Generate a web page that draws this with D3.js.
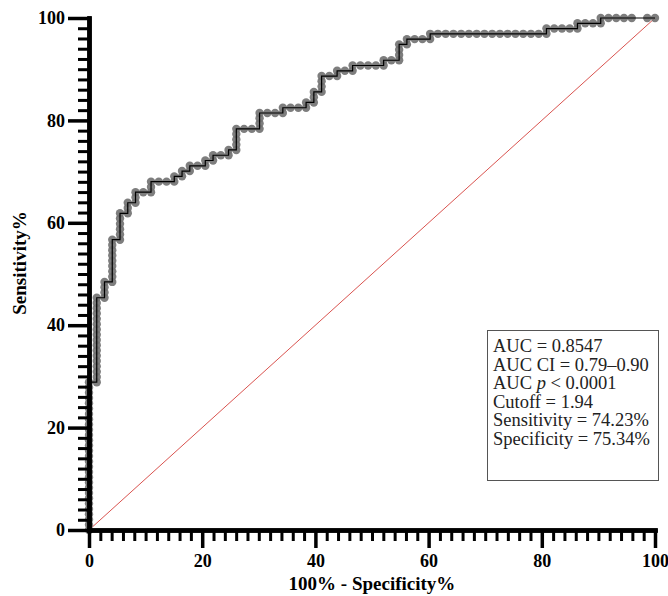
<!DOCTYPE html>
<html>
<head>
<meta charset="utf-8">
<script src="https://cdn.jsdelivr.net/npm/d3@7"></script>
<style>
body { margin: 0; background: #fff; }
</style>
</head>
<body>
<div id="chart"></div>
<script>
// ROC curve points as counts: false positives out of 73 negatives, true positives out of 97 positives
const nNeg = 73;
const nPos = 97;
const rocFP = [
  0,0,0,0,0,0,0,0,0,0,0,0,0,0,0,0,0,0,0,0,0,0,0,0,0,0,0,0,0,
  1,1,1,1,1,1,1,1,1,1,1,1,1,1,1,1,1,
  2,2,2,2,
  3,3,3,3,3,3,3,3,3,
  4,4,4,4,4,4,
  5,5,5,
  6,6,6,
  7,
  8,8,8,
  9,10,
  11,11,12,12,13,13,14,15,15,16,16,17,18,18,
  19,19,19,19,19,
  20,21,
  22,22,22,22,
  23,24,25,25,26,27,28,28,
  29,29,29,
  30,30,30,30,
  31,32,32,33,34,34,35,36,37,38,38,39,
  40,40,40,40,
  41,41,42,43,44,44,
  45,46,47,48,49,50,51,52,53,54,55,56,57,58,
  59,59,60,61,62,63,63,64,65,66,66,67,68,69,70,72,73
];
const rocTP = [
  0,1,2,3,4,5,6,7,8,9,10,11,12,13,14,15,16,17,18,19,20,21,22,23,24,25,26,27,28,
  28,29,30,31,32,33,34,35,36,37,38,39,40,41,42,43,44,
  44,45,46,47,
  47,48,49,50,51,52,53,54,55,
  55,56,57,58,59,60,
  60,61,62,
  62,63,64,
  64,
  64,65,66,
  66,66,
  66,67,67,68,68,69,69,69,70,70,71,71,71,72,
  72,73,74,75,76,
  76,76,
  76,77,78,79,
  79,79,79,80,80,80,80,81,
  81,82,83,
  83,84,85,86,
  86,86,87,87,87,88,88,88,88,88,89,89,
  89,90,91,92,
  92,93,93,93,93,94,
  94,94,94,94,94,94,94,94,94,94,94,94,94,94,
  94,95,95,95,95,95,96,96,96,96,97,97,97,97,97,97,97
];

const majorTicks = [0, 20, 40, 60, 80, 100];
const statLines = [
  "AUC = 0.8547",
  "AUC CI = 0.79\u20130.90",
  "AUC p < 0.0001",
  "Cutoff = 1.94",
  "Sensitivity = 74.23%",
  "Specificity = 75.34%"
];

const width = 668, height = 596;
const serif = "'Liberation Serif', 'Times New Roman', serif";

const svg = d3.select("#chart").append("svg")
  .attr("width", width)
  .attr("height", height)
  .style("background", "#fff");

const x = d3.scaleLinear().domain([0, 100]).range([89, 655]);
const y = d3.scaleLinear().domain([0, 100]).range([530, 18]);

const points = rocFP.map((fp, i) => [fp / nNeg * 100, rocTP[i] / nPos * 100]);

// reference diagonal
svg.append("line")
  .attr("x1", x(0)).attr("y1", y(0))
  .attr("x2", x(100)).attr("y2", y(100))
  .attr("stroke", "#d9534f")
  .attr("stroke-width", 1);

// circles then the step line on top
svg.append("g").selectAll("circle")
  .data(points)
  .enter().append("circle")
  .attr("cx", d => x(d[0]))
  .attr("cy", d => y(d[1]))
  .attr("r", 4.2)
  .attr("fill", "#707070")
  .attr("fill-opacity", 0.9);

svg.append("path")
  .datum(points)
  .attr("fill", "none")
  .attr("stroke", "#000")
  .attr("stroke-width", 1.2)
  .attr("d", d3.line().x(d => x(d[0])).y(d => y(d[1])));

// axes
const minorTicks = d3.range(0, 101, 2).filter(v => v % 20 !== 0);

function styleAxis(g, tickWidth) {
  g.select(".domain").attr("stroke-width", 4.5).attr("stroke-linecap", "square");
  g.selectAll(".tick line").attr("stroke-width", tickWidth);
  g.selectAll(".tick text")
    .style("font-family", serif)
    .style("font-size", "18px")
    .style("font-weight", "bold")
    .attr("fill", "#000");
}

svg.append("g")
  .attr("transform", `translate(${x(0)},0)`)
  .call(d3.axisLeft(y).tickValues(minorTicks).tickSize(11).tickSizeOuter(0).tickFormat(""))
  .call(g => styleAxis(g, 3));
svg.append("g")
  .attr("transform", `translate(${x(0)},0)`)
  .call(d3.axisLeft(y).tickValues(majorTicks).tickSize(21).tickSizeOuter(0).tickPadding(3))
  .call(g => styleAxis(g, 3.5));

svg.append("g")
  .attr("transform", `translate(0,${y(0)})`)
  .call(d3.axisBottom(x).tickValues(minorTicks).tickSize(11).tickSizeOuter(0).tickFormat(""))
  .call(g => styleAxis(g, 3));
svg.append("g")
  .attr("transform", `translate(0,${y(0)})`)
  .call(d3.axisBottom(x).tickValues(majorTicks).tickSize(18).tickSizeOuter(0).tickPadding(6))
  .call(g => styleAxis(g, 3.5));

// axis titles
svg.append("text")
  .attr("transform", `translate(26,263) rotate(-90)`)
  .attr("text-anchor", "middle")
  .style("font-family", serif)
  .style("font-size", "19px")
  .style("font-weight", "bold")
  .text("Sensitivity%");

svg.append("text")
  .attr("x", 372)
  .attr("y", 590)
  .attr("text-anchor", "middle")
  .style("font-family", serif)
  .style("font-size", "19px")
  .style("font-weight", "bold")
  .text("100% - Specificity%");

// stats box
const box = svg.append("g");
box.append("rect")
  .attr("x", 487.5).attr("y", 330.5)
  .attr("width", 171).attr("height", 150)
  .attr("fill", "#fff")
  .attr("stroke", "#555")
  .attr("stroke-width", 1);

box.selectAll("text")
  .data(statLines)
  .enter().append("text")
  .attr("x", 493)
  .attr("y", (d, i) => 352 + i * 18.5)
  .style("font-family", serif)
  .style("font-size", "18.5px")
  .attr("fill", "#222")
  .each(function(d) {
    const t = d3.select(this);
    const m = d.match(/^(AUC )p( .*)$/);
    if (m) {
      t.append("tspan").text(m[1]);
      t.append("tspan").style("font-style", "italic").text("p");
      t.append("tspan").text(m[2]);
    } else {
      t.text(d);
    }
  });
</script>
</body>
</html>
